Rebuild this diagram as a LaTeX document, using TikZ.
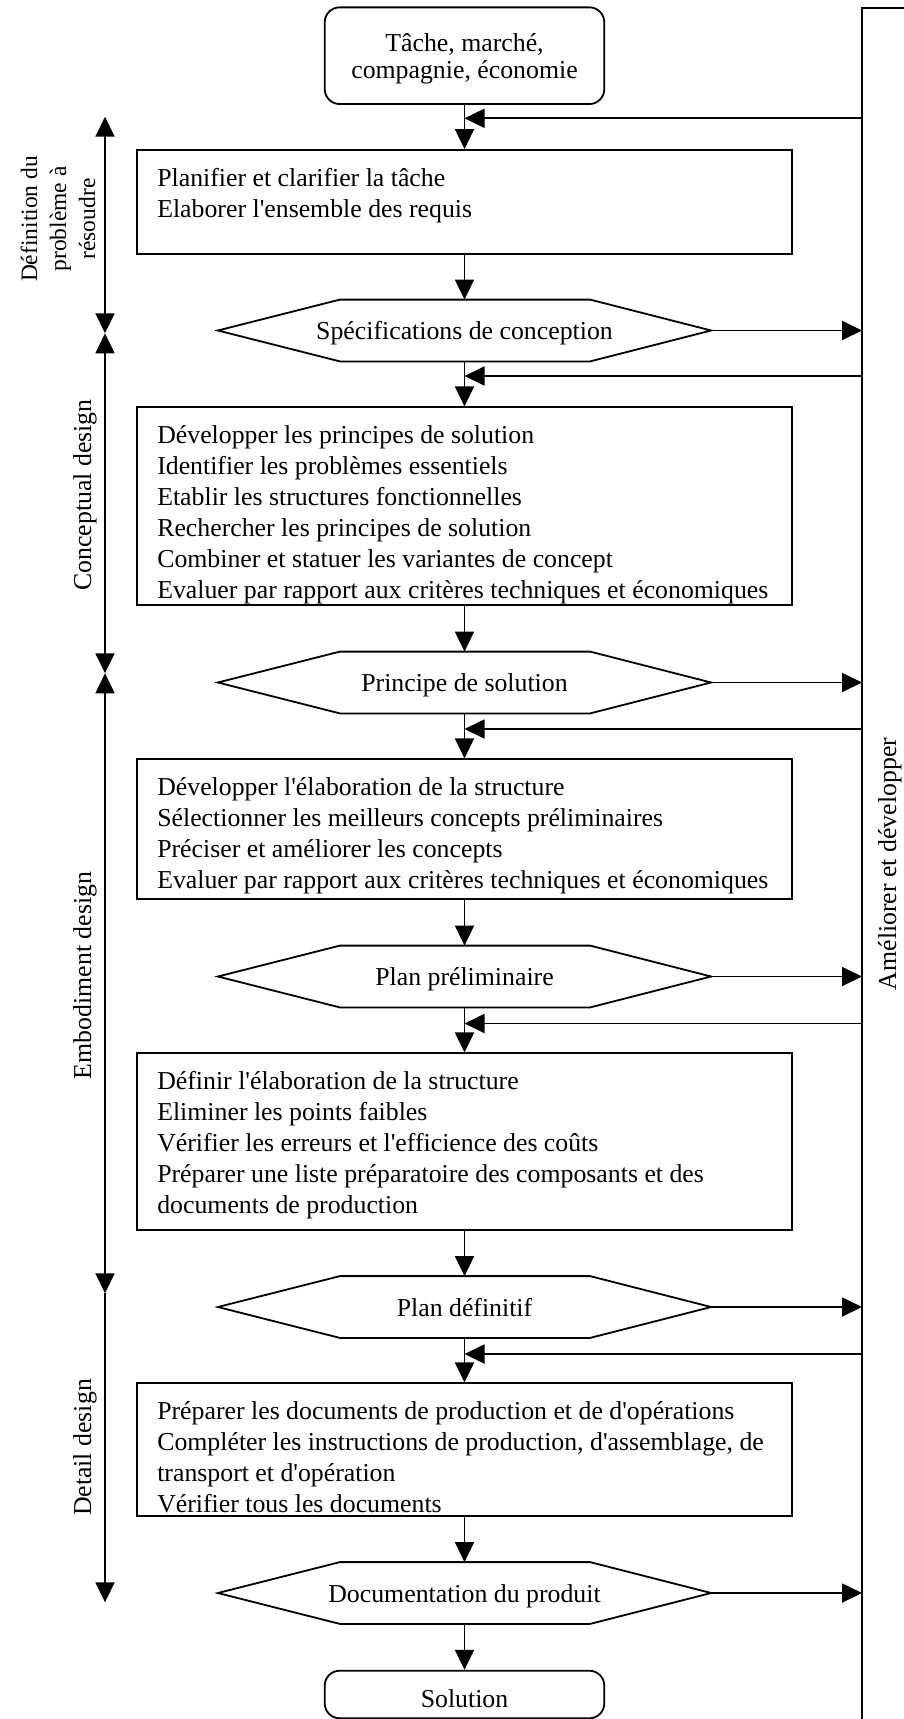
\documentclass[tikz,border=0pt]{standalone}
\usepackage{fontspec}
\setmainfont{Liberation Serif}
\usetikzlibrary{arrows.meta}

\newcommand\mainsize{\fontsize{25.8}{31}\selectfont}
\newcommand\sidesize{\fontsize{23.5}{29}\selectfont}
\newcommand\q{\textquotesingle}

\begin{document}
\begin{tikzpicture}[x=1pt,y=-1pt,
  line width=1.8pt,
  arr/.style={-{Triangle[length=20pt,width=19pt]}},
  darr/.style={{Triangle[length=20pt,width=19pt]}-{Triangle[length=20pt,width=19pt]}},
  endbox/.style={draw, rounded corners=15pt, minimum width=279.6pt, inner sep=0pt},
  endtext/.style={inner sep=0pt, align=center, font=\mainsize},
  procbox/.style={draw, minimum width=654.4pt, inner sep=0pt},
  boxtext/.style={anchor=north west, inner sep=0pt, align=left, font=\mainsize},
  hexnode/.style={minimum width=491.4pt, minimum height=60pt, inner sep=0pt, font=\mainsize,
    text height=18pt, text depth=0pt},
  sidelabel/.style={rotate=90, inner sep=0pt, font=\mainsize, align=center}
]
\useasboundingbox (0,0) rectangle (904,1719);

% start and end of the process
\node[endbox, minimum height=96.7pt] (top) at (464.5,55.7) {};
\node[endtext, anchor=north, font=\fontsize{25.8}{27.4}\selectfont] (toptext) at (464.5,31.5)
  {\strut T\^ache, march\'e,\\compagnie, \'economie};
\node[endbox, minimum height=47.6pt] (sol) at (464.5,1694.5) {};
\node[endtext, anchor=base] (soltext) at (464.5,1707.5) {Solution};

% working steps
\node[procbox, minimum height=104pt]   (b1) at (464.5,202) {};
\node[procbox, minimum height=198pt]   (b2) at (464.5,506.3) {};
\node[procbox, minimum height=140pt]   (b3) at (464.5,829.3) {};
\node[procbox, minimum height=176.7pt] (b4) at (464.5,1141.7) {};
\node[procbox, minimum height=132.7pt] (b5) at (464.5,1449.7) {};

\node[boxtext] (t1) at ([xshift=20pt,yshift=-14.5pt]b1.north west)
  {\strut Planifier et clarifier la t\^ache\\Elaborer l\q ensemble des requis};
\node[boxtext] (t2) at ([xshift=20pt,yshift=-14.5pt]b2.north west)
  {\strut D\'evelopper les principes de solution\\
   Identifier les probl\`emes essentiels\\
   Etablir les structures fonctionnelles\\
   Rechercher les principes de solution\\
   Combiner et statuer les variantes de concept\\
   Evaluer par rapport aux crit\`eres techniques et \'economiques};
\node[boxtext] (t3) at ([xshift=20pt,yshift=-14.5pt]b3.north west)
  {\strut D\'evelopper l\q\'elaboration de la structure\\
   S\'electionner les meilleurs concepts pr\'eliminaires\\
   Pr\'eciser et am\'eliorer les concepts\\
   Evaluer par rapport aux crit\`eres techniques et \'economiques};
\node[boxtext] (t4) at ([xshift=20pt,yshift=-14.5pt]b4.north west)
  {\strut D\'efinir l\q\'elaboration de la structure\\
   Eliminer les points faibles\\
   V\'erifier les erreurs et l\q efficience des co\^uts\\
   Pr\'eparer une liste pr\'eparatoire des composants et des\\
   documents de production};
\node[boxtext] (t5) at ([xshift=20pt,yshift=-14.5pt]b5.north west)
  {\strut Pr\'eparer les documents de production et de d\q op\'erations\\
   Compl\'eter les instructions de production, d\q assemblage, de\\
   transport et d\q op\'eration\\
   V\'erifier tous les documents};

% results of each phase
\node[hexnode] (h1) at (464.5,330.5)  {Sp\'ecifications de conception};
\node[hexnode] (h2) at (464.5,682.5)  {Principe de solution};
\node[hexnode] (h3) at (464.5,976.5)  {Plan pr\'eliminaire};
\node[hexnode] (h4) at (464.5,1307)   {Plan d\'efinitif};
\node[hexnode] (h5) at (464.5,1593)   {Documentation du produit};
\foreach \h in {h1,h2,h3,h4,h5}
  \draw (\h.west) -- ([xshift=122pt]\h.north west) -- ([xshift=-121pt]\h.north east)
    -- (\h.east) -- ([xshift=-121pt]\h.south east) -- ([xshift=122pt]\h.south west) -- cycle;

% main flow
\draw[arr] (top) -- (b1);
\draw[arr] (b1) -- (h1.north);
\draw[arr] (h1.south) -- (b2);
\draw[arr] (b2) -- (h2.north);
\draw[arr] (h2.south) -- (b3);
\draw[arr] (b3) -- (h3.north);
\draw[arr] (h3.south) -- (b4);
\draw[arr] (b4) -- (h4.north);
\draw[arr] (h4.south) -- (b5);
\draw[arr] (b5) -- (h5.north);
\draw[arr] (h5.south) -- (sol);

% improvement loop on the right
\coordinate (rtop) at (904,8.3);
\coordinate (rcorner) at (862,8.3);
\coordinate (rbot) at (862,1720);
\draw (rtop) -- (rcorner) -- (rbot);
\foreach \h in {h1,h2,h3,h4,h5}
  \draw[arr] (\h.east) -- (\h.east -| rcorner);
\coordinate (f1) at (862,118.3);
\coordinate (f2) at (862,376);
\coordinate (f3) at (862,729);
\coordinate (f4) at (862,1023.5);
\coordinate (f5) at (862,1354);
\foreach \f in {f1,f2,f3,f4,f5}
  \draw[arr] (\f) -- (\f -| top.south);
\node[sidelabel] (impr) at (890,864) {Am\'eliorer et d\'evelopper};

% phases on the left
\coordinate (p0) at (105,116.7);
\coordinate (p1) at (105,333.3);
\coordinate (p2) at (105,673.3);
\coordinate (p3) at (105,1293.3);
\coordinate (p4) at (105,1602.3);
\draw[darr] (p0) -- (p1);
\draw[darr] (p1) -- (p2);
\draw[darr] (p2) -- (p3);
\draw[arr]  (p3) -- (p4);
\node[sidelabel, font=\sidesize] (ph1) at (58,219) {D\'efinition du\\probl\`eme \`a\\r\'esoudre};
\node[sidelabel] (ph2) at (85,495)    {Conceptual design};
\node[sidelabel] (ph3) at (85,975.5)  {Embodiment design};
\node[sidelabel] (ph4) at (85,1447.5) {Detail design};
\end{tikzpicture}
\end{document}
